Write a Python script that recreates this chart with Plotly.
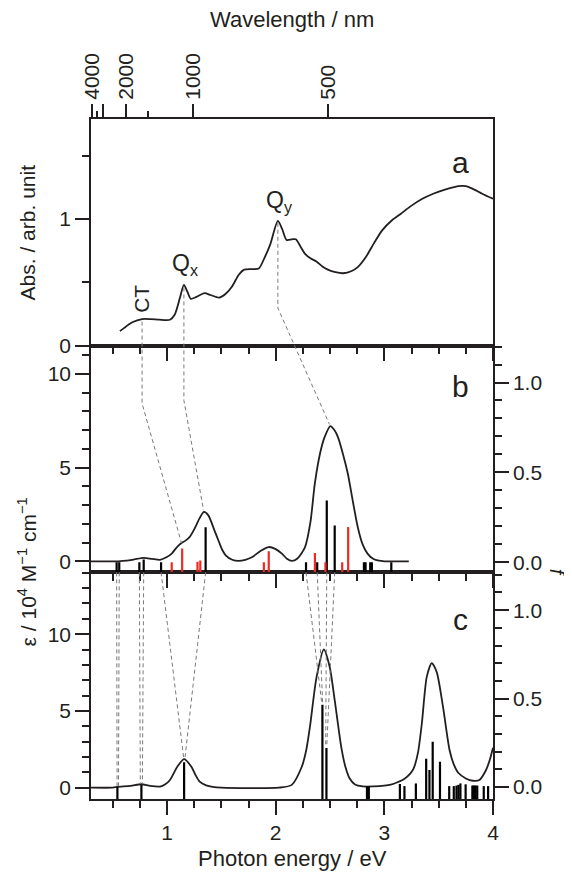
import plotly.graph_objects as go

# ---------------- data ----------------
# Panel a: measured absorption
abs_energy = [0.566, 0.62, 0.68, 0.77, 0.85, 0.93, 1.027, 1.07, 1.118, 1.155, 1.19, 1.218,
              1.27, 1.345, 1.40, 1.48, 1.54, 1.60, 1.66, 1.71, 1.78, 1.845, 1.90, 1.95,
              2.02, 2.06, 2.10, 2.15, 2.185, 2.23, 2.27, 2.32, 2.375, 2.43, 2.48, 2.55,
              2.62, 2.70, 2.755, 2.83, 2.905, 2.98, 3.07, 3.15, 3.24, 3.35, 3.45, 3.55,
              3.68, 3.75, 3.81, 3.90, 4.0]
abs_value = [0.115, 0.15, 0.185, 0.21, 0.21, 0.205, 0.205, 0.244, 0.376, 0.48, 0.42, 0.37,
             0.385, 0.415, 0.40, 0.38, 0.41, 0.47, 0.56, 0.60, 0.605, 0.61, 0.70, 0.80,
             0.985, 0.92, 0.835, 0.84, 0.84, 0.78, 0.725, 0.69, 0.665, 0.625, 0.60, 0.58,
             0.572, 0.59, 0.62, 0.70, 0.81, 0.91, 0.99, 1.04, 1.10, 1.16, 1.20, 1.23,
             1.26, 1.26, 1.24, 1.20, 1.16]

# Panel b: calculated spectrum (eps / 1e4 M-1 cm-1) and oscillator strengths
calc_b_energy = [0.30, 0.55, 0.63, 0.70, 0.785, 0.86, 0.936, 0.99, 1.043, 1.085, 1.133,
                 1.17, 1.209, 1.25, 1.30, 1.339, 1.38, 1.436, 1.48, 1.51, 1.54, 1.60,
                 1.66, 1.72, 1.785, 1.86, 1.936, 2.00, 2.057, 2.10, 2.15, 2.20, 2.27,
                 2.32, 2.36, 2.41, 2.45, 2.503, 2.54, 2.573, 2.62, 2.664, 2.71, 2.755,
                 2.80, 2.845, 2.90, 2.95, 3.0, 3.225]
calc_b_eps = [0.0, 0.0, 0.03, 0.10, 0.18, 0.13, 0.08, 0.2, 0.41, 0.72, 0.97,
              1.1, 1.3, 1.7, 2.3, 2.63, 2.45, 1.65, 1.0, 0.59, 0.32, 0.08,
              0.02, 0.08, 0.23, 0.55, 0.76, 0.65, 0.41, 0.15, 0.02, 0.15, 0.76,
              2.1, 4.14, 5.8, 6.62, 7.21, 7.0, 6.62, 5.7, 4.67, 3.2, 1.83,
              0.9, 0.41, 0.12, 0.03, 0.0, 0.0]
b_black_energy = [0.536, 0.56, 0.745, 0.785, 0.945, 1.355, 2.279, 2.382, 2.47, 2.543,
                  2.812, 2.827, 2.87, 2.885, 3.064]
b_black_f = [0.0, 0.0, 0.0, 0.015, 0.0, 0.195, 0.0, 0.0, 0.344, 0.204,
             0.0, 0.0, 0.0, 0.0, 0.0]
b_red_energy = [1.043, 1.139, 1.28, 1.306, 1.891, 1.936, 2.361, 2.458, 2.612, 2.667]
b_red_f = [0.0, 0.076, 0.003, 0.01, 0.0, 0.061, 0.052, 0.0, 0.0, 0.196]

# Panel c: calculated spectrum and oscillator strengths
calc_c_energy = [0.30, 0.50, 0.543, 0.664, 0.764, 0.845, 0.936, 0.98, 1.027, 1.094, 1.157,
                 1.224, 1.26, 1.30, 1.36, 1.42, 1.50, 2.03, 2.148, 2.24, 2.28, 2.315,
                 2.376, 2.443, 2.497, 2.543, 2.603, 2.64, 2.68, 2.73, 2.80, 2.90, 3.00,
                 3.06, 3.12, 3.18, 3.24, 3.27, 3.31, 3.345, 3.39, 3.436, 3.482, 3.54,
                 3.60, 3.64, 3.68, 3.75, 3.815, 3.875, 3.936, 3.97, 4.0]
calc_c_eps = [0.0, 0.0, 0.05, 0.11, 0.22, 0.11, 0.07, 0.2, 0.5, 1.36, 1.86,
              1.36, 0.85, 0.39, 0.15, 0.05, 0.0, 0.0, 0.18, 1.36, 2.4, 3.96,
              7.2, 9.0, 7.86, 5.7, 2.66, 1.4, 0.61, 0.2, 0.08, 0.08, 0.13,
              0.2, 0.35, 0.55, 0.93, 1.26, 2.3, 4.18, 7.2, 8.12, 7.53, 5.26,
              2.45, 1.5, 0.97, 0.6, 0.45, 0.5, 1.15, 1.8, 2.6]
c_black_energy = [0.543, 0.764, 1.157, 2.43, 2.467, 2.84, 2.857, 3.143, 3.185, 3.29,
                  3.385, 3.415, 3.445, 3.512, 3.597, 3.639, 3.664, 3.682, 3.70, 3.748,
                  3.81, 3.82, 3.83, 3.84, 3.855, 3.915, 3.955]
c_black_f = [0.003, 0.011, 0.14, 0.465, 0.22, 0.003, 0.003, 0.017, 0.005, 0.02,
             0.16, 0.096, 0.256, 0.143, 0.005, 0.005, 0.008, 0.012, 0.02, 0.015,
             0.008, 0.008, 0.008, 0.008, 0.008, 0.005, 0.005]

# Top wavelength axis (nm)
wl_major = [4000, 3000, 2000, 1000, 500]
wl_major_text = ["4000", "", "2000", "1000", "500"]
wl_minor = [3500, 1500]

# Dashed guide lines: a -> b (panel, energy, value)
guides_ab = [
    [("a", 0.77, 0.19), ("b", 0.77, 8.42), ("b", 1.133, 0.97)],
    [("a", 1.155, 0.46), ("b", 1.155, 8.58), ("b", 1.336, 2.72)],
    [("a", 2.02, 0.97), ("a", 2.02, 0.297), ("b", 2.495, 7.3)],
]
# b -> c: (energy in b, energy in c, eps in c at the end)
guides_bc = [
    (0.536, 0.540, 0.05), (0.560, 0.553, 0.05),
    (0.745, 0.754, 0.25), (0.785, 0.773, 0.25),
    (0.945, 1.152, 2.0), (1.355, 1.166, 2.0),
    (2.279, 2.424, 5.5), (2.382, 2.432, 5.5),
    (2.470, 2.460, 2.7), (2.543, 2.470, 2.7),
]

# ---------------- layout constants ----------------
X_RANGE = [0.3, 4.0]
RANGES = {"a": [0.0, 1.79], "b": [-0.59, 11.5], "c": [-0.74, 14.03]}
F_RANGES = {"b": [-0.056, 1.205], "c": [-0.068, 1.214]}
DOMAINS = {"a": [2 / 3, 1.0], "b": [1 / 3, 2 / 3], "c": [0.0, 1 / 3]}
INK = "#231f20"
RED = "#ee2a24"
GUIDE = "#7a7a7a"
FONT = "Liberation Sans, Arial, sans-serif"
HC = 1239.84


def px(e):
    return (e - X_RANGE[0]) / (X_RANGE[1] - X_RANGE[0])


def py(panel, v):
    r0, r1 = RANGES[panel]
    d0, d1 = DOMAINS[panel]
    return d0 + (v - r0) / (r1 - r0) * (d1 - d0)


def sticks(energies, fs, base):
    xs, ys = [], []
    for e, f in zip(energies, fs):
        xs += [e, e, None]
        ys += [base, f, None]
    return xs, ys


fig = go.Figure()

# panel a
fig.add_trace(go.Scatter(x=abs_energy, y=abs_value, xaxis="x3", yaxis="y", mode="lines",
                         line=dict(color=INK, width=1.8, shape="spline", smoothing=0.7),
                         showlegend=False, hoverinfo="skip"))
# invisible trace so that the top wavelength axis is drawn
fig.add_trace(go.Scatter(x=[abs_energy[0]], y=[abs_value[0]], xaxis="x4", yaxis="y",
                         mode="markers", marker=dict(opacity=0), showlegend=False,
                         hoverinfo="skip"))

# panel b sticks + curve
xs, ys = sticks(b_black_energy, b_black_f, F_RANGES["b"][0])
fig.add_trace(go.Scatter(x=xs, y=ys, xaxis="x2", yaxis="y4", mode="lines",
                         line=dict(color="black", width=2.2), showlegend=False, hoverinfo="skip"))
xs, ys = sticks(b_red_energy, b_red_f, F_RANGES["b"][0])
fig.add_trace(go.Scatter(x=xs, y=ys, xaxis="x2", yaxis="y4", mode="lines",
                         line=dict(color=RED, width=2.2), showlegend=False, hoverinfo="skip"))
fig.add_trace(go.Scatter(x=calc_b_energy, y=calc_b_eps, xaxis="x2", yaxis="y2", mode="lines",
                         line=dict(color=INK, width=1.8, shape="spline", smoothing=0.7),
                         showlegend=False, hoverinfo="skip"))

# panel c sticks + curve
xs, ys = sticks(c_black_energy, c_black_f, F_RANGES["c"][0])
fig.add_trace(go.Scatter(x=xs, y=ys, xaxis="x", yaxis="y5", mode="lines",
                         line=dict(color="black", width=2.2), showlegend=False, hoverinfo="skip"))
fig.add_trace(go.Scatter(x=calc_c_energy, y=calc_c_eps, xaxis="x", yaxis="y3", mode="lines",
                         line=dict(color=INK, width=1.8, shape="spline", smoothing=0.7),
                         showlegend=False, hoverinfo="skip"))

# dashed guide lines (paper coordinates computed from data)
shapes = []
for g in guides_ab:
    pts = [(px(e), py(p, v)) for p, e, v in g]
    path = "M " + " L ".join(f"{x:.5f},{y:.5f}" for x, y in pts)
    shapes.append(dict(type="path", xref="paper", yref="paper", path=path,
                       line=dict(color=GUIDE, width=1, dash="4px,3px")))
for eb, ec, vc in guides_bc:
    pts = [(px(eb), py("b", RANGES["b"][0])), (px(ec), py("c", vc))]
    path = "M " + " L ".join(f"{x:.5f},{y:.5f}" for x, y in pts)
    shapes.append(dict(type="path", xref="paper", yref="paper", path=path,
                       line=dict(color=GUIDE, width=1, dash="4px,3px")))

tickfont = dict(family=FONT, size=21, color=INK)
common_x = dict(range=X_RANGE, showgrid=False, zeroline=False, showline=True, mirror=True,
                linecolor=INK, linewidth=1.5, ticks="outside", ticklen=14, tickwidth=1.5,
                tickcolor=INK, tickmode="linear", tick0=0, dtick=1,
                minor=dict(ticks="outside", ticklen=7, tickwidth=1.5, tickcolor=INK,
                           tickmode="linear", tick0=0, dtick=0.25, showgrid=False),
                tickfont=tickfont)
common_y = dict(showgrid=False, zeroline=False, showline=True, linecolor=INK, linewidth=1.5,
                ticks="outside", ticklen=14, tickwidth=1.5, tickcolor=INK, tickfont=tickfont)

# The page body has an 8px margin, so the figure is 8px smaller than the window.
fig.update_layout(
    width=564, height=866,
    margin=dict(l=83, r=79, t=111, b=75, autoexpand=False),
    paper_bgcolor="white", plot_bgcolor="white",
    font=dict(family=FONT, color=INK),
    xaxis=dict(**common_x, anchor="y3", showticklabels=True),
    xaxis2=dict(**common_x, anchor="y2", matches="x", showticklabels=False),
    xaxis3=dict(**common_x, anchor="y", matches="x", showticklabels=False),
    xaxis4=dict(range=X_RANGE, overlaying="x3", anchor="y", side="top", showgrid=False,
                zeroline=False, showline=False, tickmode="array",
                tickvals=[HC / w for w in wl_major], ticktext=wl_major_text,
                tickangle=-90, ticks="outside", ticklen=14, tickwidth=1.5, tickcolor=INK,
                minor=dict(ticks="outside", ticklen=7, tickwidth=1.5, tickcolor=INK,
                           tickvals=[HC / w for w in wl_minor]),
                tickfont=tickfont),
    yaxis=dict(**common_y, domain=DOMAINS["a"], range=RANGES["a"], anchor="x3", mirror=True,
               tickmode="linear", tick0=0, dtick=1,
               minor=dict(ticks="outside", ticklen=7, tickwidth=1.5, tickcolor=INK,
                          tickmode="linear", tick0=0, dtick=0.5)),
    yaxis2=dict(**common_y, domain=DOMAINS["b"], range=RANGES["b"], anchor="x2", mirror=True,
                tickmode="linear", tick0=0, dtick=5,
                minor=dict(ticks="outside", ticklen=7, tickwidth=1.5, tickcolor=INK,
                           tickmode="linear", tick0=0, dtick=1)),
    yaxis3=dict(**common_y, domain=DOMAINS["c"], range=RANGES["c"], anchor="x", mirror=True,
                tickmode="linear", tick0=0, dtick=5,
                minor=dict(ticks="outside", ticklen=7, tickwidth=1.5, tickcolor=INK,
                           tickmode="linear", tick0=0, dtick=1)),
    yaxis4=dict(**common_y, range=F_RANGES["b"], overlaying="y2", side="right", anchor="x2",
                tickmode="linear", tick0=0, dtick=0.5, tickformat=".1f",
                minor=dict(ticks="outside", ticklen=7, tickwidth=1.5, tickcolor=INK,
                           tickmode="linear", tick0=0, dtick=0.1)),
    yaxis5=dict(**common_y, range=F_RANGES["c"], overlaying="y3", side="right", anchor="x",
                tickmode="linear", tick0=0, dtick=0.5, tickformat=".1f",
                minor=dict(ticks="outside", ticklen=7, tickwidth=1.5, tickcolor=INK,
                           tickmode="linear", tick0=0, dtick=0.1)),
    shapes=shapes,
)

ann = []


def add_text(text, x, y, size, xref="paper", yref="paper", angle=0):
    ann.append(dict(text=text, xref=xref, yref=yref, x=x, y=y, textangle=angle,
                    showarrow=False, xanchor="center", yanchor="middle",
                    font=dict(family=FONT, size=size, color=INK)))


add_text("Photon energy / eV", 0.5, -0.087, 22)
add_text("Wavelength / nm", 0.5, 1.146, 22)
add_text("Abs. / arb. unit", -0.159, (DOMAINS["a"][0] + DOMAINS["a"][1]) / 2, 21, angle=-90)
add_text("ε / 10<sup>4</sup> M<sup>−1</sup> cm<sup>−1</sup>", -0.159, 1 / 3, 21, angle=-90)
add_text("<i>f</i>", 1.158, 1 / 3, 20, angle=90)
add_text("a", 0.918, 0.936, 30)
add_text("b", 0.918, 0.606, 30)
add_text("c", 0.918, 0.264, 30)
add_text("CT", 0.77, 0.37, 21, xref="x3", yref="y", angle=-90)
add_text("Q<sub>x</sub>", 1.164, 0.64, 23, xref="x3", yref="y")
add_text("Q<sub>y</sub>", 2.036, 1.14, 23, xref="x3", yref="y")
fig.update_layout(annotations=ann)

fig.write_html("out.html")
